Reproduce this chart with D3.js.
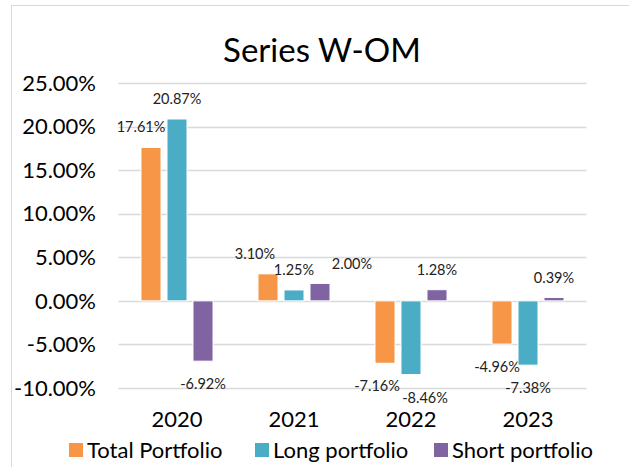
<!DOCTYPE html>
<head>
<meta charset="utf-8">
<title>Series W-OM</title>
<style>
body { margin: 0; background: #fff; }
text { font-family: Lato, "Noto Sans", sans-serif; fill: #000; }
.grid line { stroke: #d9d9d9; stroke-width: 1.5px; }
.tick-label { font-size: 22px; }
.bar-label { font-size: 14.5px; fill: #222; }
</style>
</head>
<body>
<script src="https://cdn.jsdelivr.net/npm/d3@7"></script>
<script>
var years = ["2020", "2021", "2022", "2023"];
var seriesNames = ["Total Portfolio", "Long portfolio", "Short portfolio"];
var totalPortfolio = [17.61, 3.10, -7.16, -4.96];
var longPortfolio = [20.87, 1.25, -8.46, -7.38];
var shortPortfolio = [-6.92, 2.00, 1.28, 0.39];
var yTicks = [-10, -5, 0, 5, 10, 15, 20, 25];
var colors = ["#f79646", "#4bacc6", "#8064a2"];

// manual nudges of a few data labels, as placed in the original chart
var labelNudge = {
  "0-0": -10, "0-1": -13, "2-1": 32, "1-2": 14, "0-2": -8, "0-3": -5
};

var width = 629, height = 467;
var plotLeft = 118.5, plotRight = 586.5, plotTop = 83, plotBottom = 388;

var svg = d3.select("body").append("svg")
  .attr("width", width)
  .attr("height", height);

svg.append("rect")
  .attr("x", 11.5).attr("y", 5.5)
  .attr("width", 640).attr("height", 480)
  .attr("fill", "#fff")
  .attr("stroke", "#d9d9d9");

var y = d3.scaleLinear().domain([-10, 25]).range([plotBottom, plotTop]);
var x0 = d3.scaleBand().domain(years).range([plotLeft, plotRight]);
var x1 = d3.scaleBand().domain(seriesNames).range([0, x0.bandwidth()])
  .paddingInner(0.23).paddingOuter(0.865);

var data = [totalPortfolio, longPortfolio, shortPortfolio];

svg.append("text")
  .attr("x", 322).attr("y", 62)
  .attr("text-anchor", "middle")
  .style("font-size", "33px")
  .text("Series W-OM");

var grid = svg.append("g").attr("class", "grid");
grid.selectAll("line")
  .data(yTicks)
  .enter().append("line")
  .attr("x1", plotLeft).attr("x2", plotRight)
  .attr("y1", function(d) { return Math.round(y(d)) + 0.5; })
  .attr("y2", function(d) { return Math.round(y(d)) + 0.5; });

svg.append("g").selectAll("text")
  .data(yTicks)
  .enter().append("text")
  .attr("class", "tick-label")
  .attr("x", 96)
  .attr("y", function(d) { return y(d); })
  .attr("dy", "0.35em")
  .attr("text-anchor", "end")
  .text(function(d) { return d.toFixed(2) + "%"; });

function rows(s, si) {
  return years.map(function(yr, i) { return {s: s, si: si, yr: yr, i: i, v: data[si][i]}; });
}

var groups = svg.append("g").selectAll("g")
  .data(seriesNames)
  .enter().append("g")
  .attr("fill", function(d, i) { return colors[i]; });

groups.selectAll("rect")
  .data(rows)
  .enter().append("rect")
  .attr("x", function(d) { return x0(d.yr) + x1(d.s); })
  .attr("width", x1.bandwidth())
  .attr("y", function(d) { return y(Math.max(0, d.v)); })
  .attr("height", function(d) { return Math.abs(y(d.v) - y(0)); })
  .attr("stroke", "#fff")
  .attr("stroke-width", 1);

groups.selectAll("text")
  .data(rows)
  .enter().append("text")
  .attr("class", "bar-label")
  .attr("text-anchor", "middle")
  .attr("x", function(d) {
    return x0(d.yr) + x1(d.s) + x1.bandwidth() / 2 + (labelNudge[d.si + "-" + d.i] || 0);
  })
  .attr("y", function(d) { return d.v >= 0 ? y(d.v) - 20 : y(d.v) + 23; })
  .attr("dy", "0.35em")
  .text(function(d) { return d.v.toFixed(2) + "%"; });

svg.append("g").selectAll("text")
  .data(years)
  .enter().append("text")
  .attr("x", function(d) { return x0(d) + x0.bandwidth() / 2; })
  .attr("y", 427)
  .attr("text-anchor", "middle")
  .style("font-size", "22px")
  .text(function(d) { return d; });

var legendX = [69, 255, 434];
var legend = svg.append("g").selectAll("g")
  .data(seriesNames)
  .enter().append("g")
  .attr("transform", function(d, i) { return "translate(" + legendX[i] + ",443)"; });

legend.append("rect")
  .attr("width", 14).attr("height", 14)
  .attr("fill", function(d, i) { return colors[i]; });

legend.append("text")
  .attr("x", 18).attr("y", 15)
  .style("font-size", "22px")
  .text(function(d) { return d; });
</script>
</body>
</html>
